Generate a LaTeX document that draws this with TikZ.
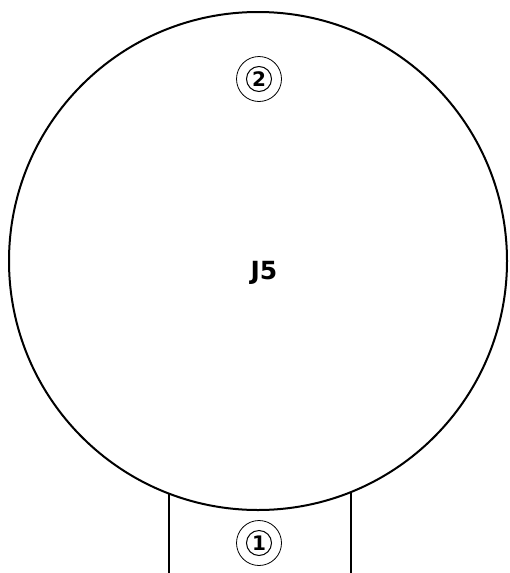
\documentclass[tikz,border=0pt]{standalone}
\usepackage{fontspec}
\setmainfont{DejaVu Sans}
\usetikzlibrary{positioning}

\begin{document}
\begin{tikzpicture}[
  x=1pt, y=-1pt,
  body/.style={draw, circle, line width=2pt, fill=white, minimum size=498pt,
               inner sep=0pt},
  stub/.style={draw, line width=2pt, minimum width=182pt, minimum height=100pt,
               inner sep=0pt, anchor=north},
  tag/.style={inner sep=0pt, font=\fontsize{25}{28}\selectfont\bfseries},
  ring/.style={draw, circle, line width=0.8pt, minimum size=45pt, inner sep=0pt},
  num/.style={draw, circle, line width=1pt, minimum size=25pt, inner sep=0pt,
              font=\fontsize{20}{22}\selectfont\bfseries}
]
\useasboundingbox (0,0) rectangle (509,573);
\clip (0,0) rectangle (509,573);
% connector stub under the body
\node[stub] (port) at (260,480) {};
\node[body] (j5) at (258,261) {};
\node[tag] (name) at ([shift={(6,12)}]j5.center) {J5};
% markers
\node[ring] (r2) at (259,79) {};
\node[num] (n2) at (r2) {2};
\node[ring] (r1) at (259,543) {};
\node[num] (n1) at (r1) {1};
\end{tikzpicture}
\end{document}
